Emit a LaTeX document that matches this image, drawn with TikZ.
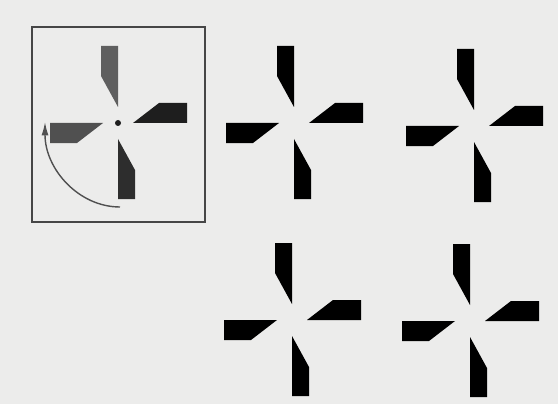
\documentclass[tikz,border=0pt]{standalone}
\usepackage{xcolor}
\usepackage{tikz}
\usetikzlibrary{arrows.meta}
\definecolor{paper}{RGB}{236, 236, 235}
\definecolor{framegray}{RGB}{70, 70, 70}
\definecolor{bladeup}{RGB}{95, 95, 95}
\definecolor{bladeright}{RGB}{30, 30, 30}
\definecolor{bladedown}{RGB}{45, 45, 45}
\definecolor{bladeleft}{RGB}{80, 80, 80}
\definecolor{arcgray}{RGB}{80, 80, 80}

\tikzset{
  pics/pinwheel/.style n args={4}{code={
    % upper blade
    \fill[#1] (0,-16) -- (0,-77) -- (-17,-77) -- (-17,-47) -- cycle;
    % right blade
    \fill[#2] (15,0) -- (69,0) -- (69,-20) -- (41,-20) -- cycle;
    % lower blade
    \fill[#3] (0,16) -- (0,76) -- (17,76) -- (17,47) -- cycle;
    % left blade
    \fill[#4] (-15,0) -- (-68,0) -- (-68,20) -- (-41,20) -- cycle;
  }}
}

\begin{document}
\begin{tikzpicture}[x=0.5mm, y=-0.5mm]
        \fill[paper] (0,0) rectangle (558,404);
        \useasboundingbox (0,0) rectangle (558,404);
        % framed wheel with the turn arrow
        \draw[framegray, line width=2.2pt] (32,27) rectangle (205,222);
        \pic at (118,123) {pinwheel={bladeup}{bladeright}{bladedown}{bladeleft}};
        \fill[bladeright] (118,123) circle (3);
        \draw[-{Latex[length=19pt, width=10pt]}, arcgray, line width=2pt] (120,207) arc[start angle=90, end angle=180, x radius=75, y radius=85];
        % top row
        \pic at (294,123) {pinwheel={black}{black}{black}{black}};
        \pic at (474,126) {pinwheel={black}{black}{black}{black}};
        % bottom row
        \pic at (292,320) {pinwheel={black}{black}{black}{black}};
        \pic at (470,321) {pinwheel={black}{black}{black}{black}};
      \end{tikzpicture}
\end{document}
